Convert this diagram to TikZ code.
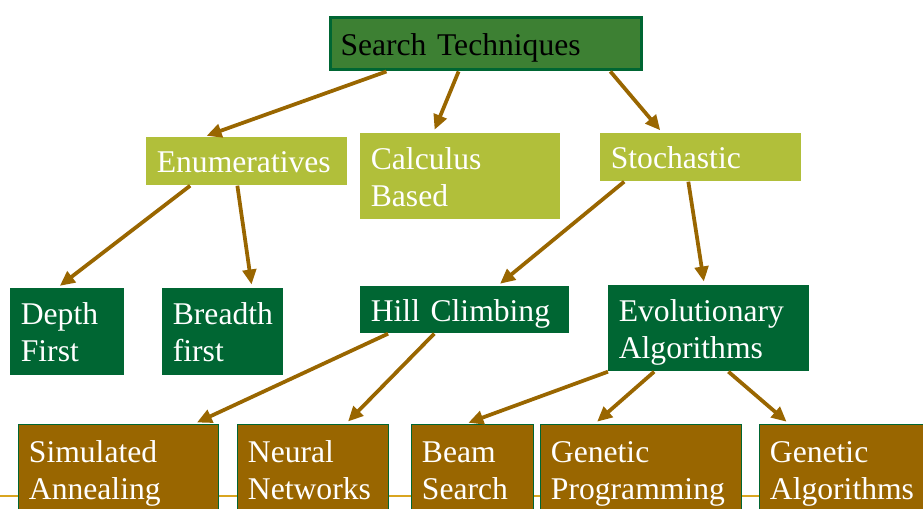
\documentclass[tikz,border=0pt]{standalone}
\usepackage{fontspec}
\setmainfont{Liberation Serif}
\usepackage{xcolor}
\usepackage{tikz}
\usetikzlibrary{arrows.meta,calc}

\definecolor{topgreen}{HTML}{3D8033}
\definecolor{darkgreen}{HTML}{006633}
\definecolor{lightgreen}{HTML}{B1BF3A}
\definecolor{brownish}{HTML}{996600}
\definecolor{goldline}{HTML}{D9A520}

\begin{document}
\hyphenpenalty=10000
\begin{tikzpicture}[x=0.02cm, y=-0.02cm,
    box/.style={anchor=north west, inner xsep=0.21cm, inner ysep=0pt, align=left,
                font=\fontsize{18}{21}\selectfont,
                execute at begin node=\rule{0pt}{0.68cm}, execute at end node=\strut},
    topbox/.style={box, fill=topgreen, draw=darkgreen, line width=0.06cm, text=black},
    lightbox/.style={box, fill=lightgreen, text=white},
    darkbox/.style={box, fill=darkgreen, text=white},
    brownbox/.style={box, fill=brownish, draw=darkgreen, line width=0.5pt, text=white, minimum height=1.8cm},
    arr/.style={draw=brownish, line width=0.075cm, shorten >=2pt,
                -{Triangle[length=0.3cm, width=0.27cm]}}]
        \useasboundingbox (0,0) rectangle (923,509);
        \draw [goldline, line width=0.04cm] (0,496) -- (923,496);          % bottom rule

        \node [topbox, text width=5.82cm, minimum height=1.04cm] (st) at (328.5,16.5) {Search Techniques};

        \node [lightbox, text width=3.6cm,  minimum height=0.96cm] (enum)  at (146,137) {Enumeratives};
        \node [lightbox, text width=3.58cm, minimum height=1.72cm] (calc)  at (360,133) {Calculus\\Based};
        \node [lightbox, text width=3.6cm,  minimum height=0.96cm] (stoch) at (600,133) {Stochastic};

        \node [darkbox, text width=1.86cm, minimum height=1.74cm] (depth)   at (10,288)  {Depth\\First};
        \node [darkbox, text width=2.0cm,  minimum height=1.74cm] (breadth) at (162,288) {Breadth\\first};
        \node [darkbox, text width=3.76cm, minimum height=0.94cm] (hill)    at (360,286) {Hill Climbing};
        \node [darkbox, text width=3.6cm,  minimum height=1.72cm] (evol)    at (608,285) {Evolutionary\\Algorithms};

        \node [brownbox, text width=3.58cm] (sa)   at (18,424)  {Simulated\\Annealing};
        \node [brownbox, text width=2.6cm]  (nn)   at (237,424) {Neural\\Networks};
        \node [brownbox, text width=2.02cm] (beam) at (411,424) {Beam\\Search};
        \node [brownbox, text width=3.6cm]  (gp)   at (540,424) {Genetic\\Programming};
        \node [brownbox, text width=2.98cm] (ga)   at (759,424) {Genetic\\Algorithms};

        % top level
        \draw [arr] ($(st.south west)!0.184!(st.south east)$) -- ($(enum.north west)!0.284!(enum.north east)$);
        \draw [arr] ($(st.south west)!0.413!(st.south east)$) -- ($(calc.north west)!0.365!(calc.north east)$);
        \draw [arr] ($(st.south west)!0.895!(st.south east)$) -- ($(stoch.north west)!0.31!(stoch.north east)$);
        % second level
        \draw [arr] ($(enum.south west)!0.219!(enum.south east)$)  -- ($(depth.north west)!0.41!(depth.north east)$);
        \draw [arr] ($(enum.south west)!0.453!(enum.south east)$)  -- ($(breadth.north west)!0.74!(breadth.north east)$);
        \draw [arr] ($(stoch.south west)!0.12!(stoch.south east)$) -- ($(hill.north west)!0.655!(hill.north east)$);
        \draw [arr] ($(stoch.south west)!0.438!(stoch.south east)$) -- ($(evol.north west)!0.478!(evol.north east)$);
        % third level
        \draw [arr] ($(hill.south west)!0.134!(hill.south east)$) -- ($(sa.north west)!0.875!(sa.north east)$);
        \draw [arr] ($(hill.south west)!0.354!(hill.south east)$) -- ($(nn.north west)!0.715!(nn.north east)$);
        \draw [arr] (evol.south west)                              -- ($(beam.north west)!0.44!(beam.north east)$);
        \draw [arr] ($(evol.south west)!0.229!(evol.south east)$) -- ($(gp.north west)!0.27!(gp.north east)$);
        \draw [arr] ($(evol.south west)!0.597!(evol.south east)$) -- ($(ga.north west)!0.177!(ga.north east)$);
\end{tikzpicture}
\end{document}
